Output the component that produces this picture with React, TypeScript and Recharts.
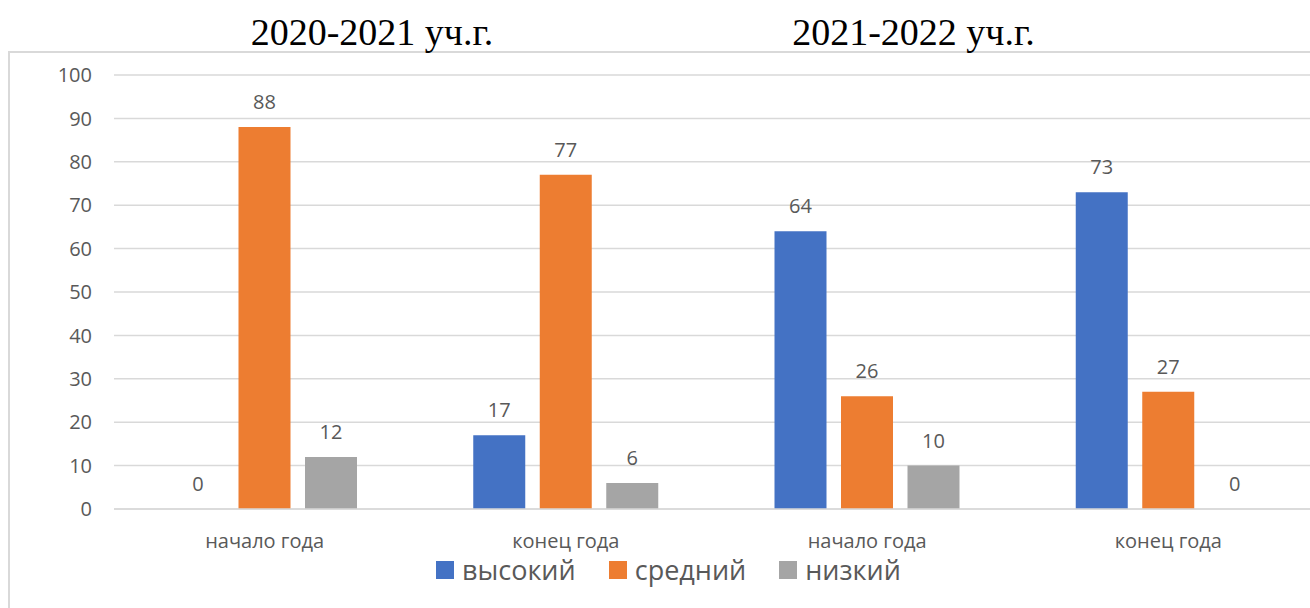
import React from 'react';
import { BarChart, Bar, XAxis, YAxis, CartesianGrid, Legend, LabelList } from 'recharts';

const categories = ['начало года', 'конец года', 'начало года', 'конец года'];
const high = [0, 17, 64, 73];
const medium = [88, 77, 26, 27];
const low = [12, 6, 10, 0];
const yTicks = [0, 10, 20, 30, 40, 50, 60, 70, 80, 90, 100];
const periodTitles = ['2020-2021 уч.г.', '2021-2022 уч.г.'];
const seriesNames = ['высокий', 'средний', 'низкий'];
const seriesColors = ['#4472C4', '#ED7D31', '#A5A5A5'];

const data = categories.map((c, i) => ({
  cat: c,
  key: i,
  high: high[i],
  medium: medium[i],
  low: low[i],
}));

const FONT = "'Open Sans', sans-serif";
const TEXT = '#595959';

const renderLegend = (props: any) => {
  const payload = [...(props.payload || [])].sort(
    (a: any, b: any) => seriesNames.indexOf(a.value) - seriesNames.indexOf(b.value)
  );
  return (
    <div style={{ display: 'flex', alignItems: 'center', fontFamily: FONT }}>
      {payload.map((p: any, i: number) => (
        <div key={i} style={{ display: 'flex', alignItems: 'center', marginRight: 33 }}>
          <div style={{ width: 18, height: 18, background: p.color, marginRight: 8 }} />
          <span style={{ fontSize: 27, color: TEXT, lineHeight: '30px' }}>{p.value}</span>
        </div>
      ))}
    </div>
  );
};

const labelProps = { position: 'top' as const, offset: 18, fill: TEXT, fontSize: 20, fontFamily: FONT };

export default function App() {
  return (
    <div style={{ position: 'absolute', left: 0, top: 0, width: 1310, height: 608, overflow: 'hidden', background: '#fff' }}>
      <div
        style={{
          position: 'absolute',
          left: 8,
          top: 51,
          width: 1400,
          height: 700,
          border: '2px solid #d9d9d9',
          boxSizing: 'border-box',
        }}
      />
      <svg style={{ position: 'absolute', left: 0, top: 0 }} width={1310} height={60}>
        <text x={372} y={44.5} textAnchor="middle" fontFamily="'Liberation Serif', 'Times New Roman', serif" fontSize={38} fill="#000">
          {periodTitles[0]}
        </text>
        <text x={913.5} y={44.5} textAnchor="middle" fontFamily="'Liberation Serif', 'Times New Roman', serif" fontSize={38} fill="#000">
          {periodTitles[1]}
        </text>
      </svg>
      <div style={{ position: 'absolute', left: 0, top: 0 }}>
        <BarChart
          width={1330}
          height={608}
          data={data}
          margin={{ top: 75, right: 11, bottom: 59, left: 54 }}
          barGap={14.5}
        >
          <CartesianGrid vertical={false} stroke="#d9d9d9" strokeWidth={1.5} />
          <XAxis
            dataKey="key"
            tickFormatter={(v: any) => categories[v]}
            axisLine={{ stroke: '#d9d9d9', strokeWidth: 1.5 }}
            tickLine={false}
            tickSize={0}
            tickMargin={25}
            height={40}
            tick={{ fill: TEXT, fontSize: 20, fontFamily: FONT }}
            interval={0}
          />
          <YAxis
            domain={[0, 100]}
            ticks={yTicks}
            width={60}
            axisLine={false}
            tickLine={false}
            tickSize={0}
            tickMargin={22}
            tick={{ fill: TEXT, fontSize: 20, fontFamily: FONT }}
            interval={0}
          />
          <Legend
            layout="horizontal"
            verticalAlign="middle"
            align="center"
            content={renderLegend}
            wrapperStyle={{ top: 555, left: 436, width: 700 }}
          />
          <Bar dataKey="high" name={seriesNames[0]} fill={seriesColors[0]} barSize={52} minPointSize={0.01} isAnimationActive={false}>
            <LabelList dataKey="high" {...labelProps} />
          </Bar>
          <Bar dataKey="medium" name={seriesNames[1]} fill={seriesColors[1]} barSize={52} minPointSize={0.01} isAnimationActive={false}>
            <LabelList dataKey="medium" {...labelProps} />
          </Bar>
          <Bar dataKey="low" name={seriesNames[2]} fill={seriesColors[2]} barSize={52} minPointSize={0.01} isAnimationActive={false}>
            <LabelList dataKey="low" {...labelProps} />
          </Bar>
        </BarChart>
      </div>
    </div>
  );
}
